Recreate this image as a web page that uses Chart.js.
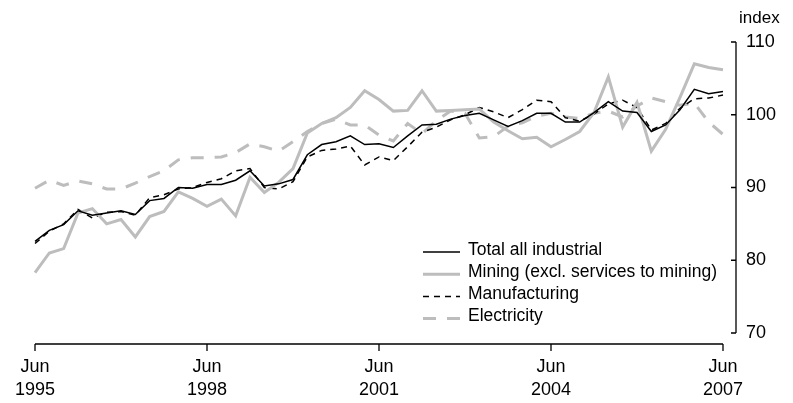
<!DOCTYPE html>
<html>
<head>
<meta charset="utf-8">
<script src="https://cdn.jsdelivr.net/npm/chart.js@4.4.1/dist/chart.umd.min.js"></script>
<style>
  body { margin: 0; background: #fff; }
  #c { display: block; }
</style>
</head>
<body>
<canvas id="c" width="793" height="403"></canvas>
<script>
// quarterly index, Jun 1995 - Jun 2007
const quarters = [
  'Jun 1995', 'Sep 1995', 'Dec 1995', 'Mar 1996', 'Jun 1996', 'Sep 1996', 'Dec 1996', 'Mar 1997',
  'Jun 1997', 'Sep 1997', 'Dec 1997', 'Mar 1998', 'Jun 1998', 'Sep 1998', 'Dec 1998', 'Mar 1999',
  'Jun 1999', 'Sep 1999', 'Dec 1999', 'Mar 2000', 'Jun 2000', 'Sep 2000', 'Dec 2000', 'Mar 2001',
  'Jun 2001', 'Sep 2001', 'Dec 2001', 'Mar 2002', 'Jun 2002', 'Sep 2002', 'Dec 2002', 'Mar 2003',
  'Jun 2003', 'Sep 2003', 'Dec 2003', 'Mar 2004', 'Jun 2004', 'Sep 2004', 'Dec 2004', 'Mar 2005',
  'Jun 2005', 'Sep 2005', 'Dec 2005', 'Mar 2006', 'Jun 2006', 'Sep 2006', 'Dec 2006', 'Mar 2007',
  'Jun 2007'
];
const xTickLabels = ['Jun 1995', 'Jun 1998', 'Jun 2001', 'Jun 2004', 'Jun 2007'];
const yTicks = [70, 80, 90, 100, 110];

const totalAll = [
  82.6, 84.1, 84.9, 86.8, 86.2, 86.5, 86.8, 86.3, 88.2, 88.5,
  90.0, 89.9, 90.4, 90.4, 91.0, 92.3, 90.2, 90.5, 91.1, 94.5,
  95.9, 96.3, 97.1, 95.9, 96.0, 95.5, 97.1, 98.6, 98.7, 99.4,
  99.9, 100.2, 99.3, 98.4, 99.2, 100.2, 100.2, 99.0, 99.0, 100.3,
  101.8, 100.5, 100.3, 97.7, 98.6, 100.7, 103.5, 102.9, 103.2
];
const mining = [
  78.3, 81.0, 81.6, 86.5, 87.1, 85.0, 85.6, 83.2, 86.0, 86.7,
  89.4, 88.5, 87.4, 88.4, 86.1, 91.4, 89.3, 90.7, 92.6, 97.5,
  98.8, 99.6, 101.0, 103.3, 102.1, 100.5, 100.6, 103.3, 100.5, 100.6,
  100.7, 100.8, 99.0, 97.8, 96.7, 96.9, 95.6, 96.6, 97.7, 100.3,
  105.2, 98.3, 101.7, 95.0, 98.0, 102.4, 107.0, 106.5, 106.2
];
const manufacturing = [
  82.3, 84.0, 85.0, 87.0, 85.8, 86.6, 86.7, 86.2, 88.6, 89.0,
  89.8, 90.0, 90.7, 91.2, 92.3, 92.6, 90.0, 89.8, 90.8, 94.2,
  95.1, 95.3, 95.7, 93.1, 94.2, 93.7, 95.6, 97.6, 98.3, 99.3,
  100.0, 101.0, 100.4, 99.6, 100.7, 102.0, 101.8, 99.6, 99.1, 100.1,
  101.5, 102.0, 101.0, 97.9, 98.8, 100.9, 102.2, 102.3, 102.7
];
const electricity = [
  89.9, 91.0, 90.3, 90.9, 90.5, 89.8, 89.8, 90.6, 91.5, 92.3,
  93.8, 94.1, 94.1, 94.2, 94.8, 96.0, 95.6, 95.0, 96.3, 97.7,
  98.8, 99.4, 98.6, 98.6, 97.2, 96.4, 98.8, 97.4, 99.2, 100.5,
  100.2, 96.8, 97.0, 98.4, 98.9, 99.8, 100.2, 99.7, 99.5, 100.2,
  100.5, 99.7, 101.2, 102.3, 101.8, 101.3, 101.6, 99.0, 97.3
];

const GREY = '#bdbdbd';
const FONT = "'Liberation Sans', Arial, sans-serif";

// axis lines sit apart from the plot, ABS style
const absAxes = {
  id: 'absAxes',
  afterDraw(chart) {
    const { ctx } = chart;
    const x = chart.scales.x, y = chart.scales.y;
    ctx.save();
    ctx.strokeStyle = '#000';
    ctx.lineWidth = 1.3;

    const xl = x.getPixelForValue(0);
    const xr = x.getPixelForValue(quarters.length - 1);
    const yb = y.bottom + 11;
    ctx.beginPath();
    ctx.moveTo(xl, yb);
    ctx.lineTo(xr, yb);
    xTickLabels.forEach(q => {
      const px = x.getPixelForValue(quarters.indexOf(q));
      ctx.moveTo(px, yb);
      ctx.lineTo(px, yb + 7);
    });
    ctx.stroke();

    const ax = x.right + 13;
    ctx.beginPath();
    ctx.moveTo(ax, y.getPixelForValue(yTicks[0]));
    ctx.lineTo(ax, y.getPixelForValue(yTicks[yTicks.length - 1]));
    yTicks.forEach(v => {
      const py = y.getPixelForValue(v);
      ctx.moveTo(ax, py);
      ctx.lineTo(ax - 5, py);
    });
    ctx.stroke();

    ctx.fillStyle = '#000';
    ctx.font = '17px ' + FONT;
    ctx.textAlign = 'left';
    ctx.textBaseline = 'middle';
    ctx.fillText('index', ax + 3, 18);

    // legend
    const lx = 423, ly = 250;
    ctx.font = '17.5px ' + FONT;
    chart.data.datasets.forEach((ds, i) => {
      const cy = ly + i * 22.2;
      ctx.beginPath();
      ctx.strokeStyle = ds.borderColor;
      ctx.lineWidth = ds.borderWidth;
      ctx.setLineDash(ds.borderDash || []);
      ctx.moveTo(lx, cy + 2);
      ctx.lineTo(lx + 37, cy + 2);
      ctx.stroke();
      ctx.setLineDash([]);
      ctx.fillText(ds.label, lx + 45, cy);
    });
    ctx.restore();
  }
};

new Chart(document.getElementById('c'), {
  type: 'line',
  data: {
    labels: quarters,
    datasets: [
      { label: 'Total all industrial', data: totalAll, borderColor: '#000', borderWidth: 1.5 },
      { label: 'Mining (excl. services to mining)', data: mining, borderColor: GREY, borderWidth: 3 },
      { label: 'Manufacturing', data: manufacturing, borderColor: '#000', borderWidth: 1.5, borderDash: [6, 5] },
      { label: 'Electricity', data: electricity, borderColor: GREY, borderWidth: 3, borderDash: [13, 11] }
    ]
  },
  options: {
    responsive: false,
    animation: false,
    devicePixelRatio: 1,
    layout: { padding: { left: 35, top: 42, right: 0, bottom: 0 } },
    elements: { point: { radius: 0 }, line: { tension: 0 } },
    plugins: { legend: { display: false }, tooltip: { enabled: false } },
    scales: {
      x: {
        offset: false,
        afterFit: s => { s.height = 70; },
        border: { display: false },
        grid: { display: false },
        ticks: {
          autoSkip: false,
          maxRotation: 0,
          padding: 14,
          color: '#000',
          font: { family: FONT, size: 18, lineHeight: 1.3 },
          callback: (v, i) => xTickLabels.includes(quarters[i]) ? quarters[i].split(' ') : null
        }
      },
      y: {
        position: 'right',
        min: yTicks[0],
        max: yTicks[yTicks.length - 1],
        afterFit: s => { s.width = 70; },
        afterBuildTicks: s => { s.ticks = yTicks.map(v => ({ value: v })); },
        border: { display: false },
        grid: { display: false, drawTicks: false },
        ticks: {
          padding: 23,
          color: '#000',
          font: { family: FONT, size: 18 }
        }
      }
    }
  },
  plugins: [absAxes]
});
</script>
</body>
</html>
